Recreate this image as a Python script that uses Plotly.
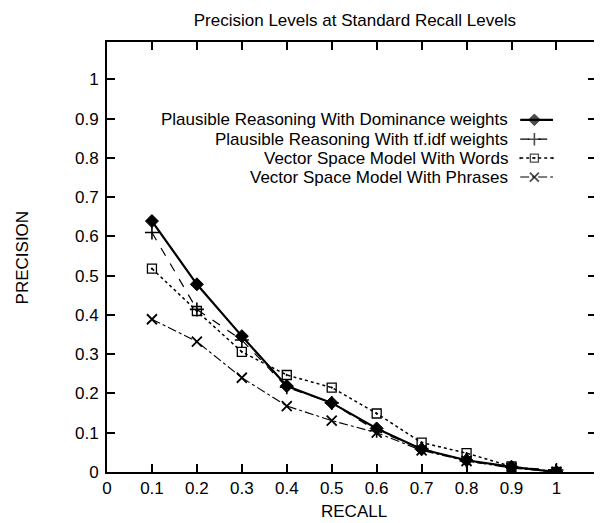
import plotly.graph_objects as go

recall = [0.1, 0.2, 0.3, 0.4, 0.5, 0.6, 0.7, 0.8, 0.9, 1.0]
dominance = [0.639, 0.478, 0.346, 0.219, 0.176, 0.111, 0.058, 0.030, 0.013, 0.0]
tfidf = [0.610, 0.414, 0.336, 0.216, 0.176, 0.105, 0.060, 0.028, 0.012, 0.005]
vsm_words = [0.518, 0.410, 0.306, 0.247, 0.215, 0.149, 0.075, 0.048, 0.014, 0.0]
vsm_phrases = [0.389, 0.332, 0.240, 0.168, 0.131, 0.100, 0.055, 0.028, 0.010, 0.0]

tick_vals = [0, 0.1, 0.2, 0.3, 0.4, 0.5, 0.6, 0.7, 0.8, 0.9, 1]
tick_text = ["0", "0.1", "0.2", "0.3", "0.4", "0.5", "0.6", "0.7", "0.8", "0.9", "1"]

names = [
    "Plausible Reasoning With Dominance weights",
    "Plausible Reasoning With tf.idf weights",
    "Vector Space Model With Words",
    "Vector Space Model With Phrases",
]
series = [dominance, tfidf, vsm_words, vsm_phrases]
styles = [
    dict(dash="solid", width=2.2, symbol="diamond", msize=10, mline=1),
    dict(dash="dash", width=1.2, symbol="cross-thin", msize=10, mline=1.6),
    dict(dash="dot", width=1.5, symbol="square-open-dot", msize=9, mline=1.3),
    dict(dash="dashdot", width=1.1, symbol="x-thin", msize=10, mline=1.8),
]

font = "Liberation Sans, Arial, sans-serif"
fs = 17
fig = go.Figure()
for nm, ys, st in zip(names, series, styles):
    fig.add_trace(go.Scatter(
        x=recall, y=ys, name=nm, mode="lines+markers",
        line=dict(color="black", width=st["width"], dash=st["dash"]),
        marker=dict(symbol=st["symbol"], size=st["msize"], color="black",
                    line=dict(color="black", width=st["mline"])),
        showlegend=False,
    ))

# custom legend (text left of key, like the original)
legend_rows = [0.819, 0.774, 0.730, 0.686]
for nm, st, yy in zip(names, styles, legend_rows):
    fig.add_annotation(x=0.825, y=yy, xref="paper", yref="paper", text=nm,
                       showarrow=False, xanchor="right", yanchor="middle",
                       font=dict(family=font, size=fs, color="black"))
    fig.add_trace(go.Scatter(
        x=[0.845, 0.874, 0.912], y=[yy, yy, yy], xaxis="x2", yaxis="y2",
        mode="lines+markers", showlegend=False, hoverinfo="skip",
        line=dict(color="black", width=st["width"], dash=st["dash"]),
        marker=dict(symbol=st["symbol"], size=[0, st["msize"] - 1, 0], color="black",
                    line=dict(color="black", width=st["mline"])),
    ))

# axis titles
fig.add_annotation(x=-0.173, y=0.5, xref="paper", yref="paper", text="PRECISION",
                   textangle=-90, showarrow=False, xanchor="center", yanchor="middle",
                   font=dict(family=font, size=fs, color="black"))
fig.add_annotation(x=0.505, y=-0.093, xref="paper", yref="paper", text="RECALL",
                   showarrow=False, xanchor="center", yanchor="middle",
                   font=dict(family=font, size=fs, color="black"))

axis_common = dict(
    showline=True, linecolor="black", linewidth=2, mirror="ticks",
    ticks="inside", ticklen=8, tickwidth=1.5, tickcolor="black",
    showgrid=False, zeroline=False,
    tickfont=dict(family=font, size=fs, color="black"),
)
fig.update_layout(
    width=594, height=515,
    margin=dict(l=99, r=4, t=34, b=51),
    paper_bgcolor="white", plot_bgcolor="white",
    title=dict(text="Precision Levels at Standard Recall Levels", x=0.584, xanchor="center",
               y=0.977, yanchor="middle", font=dict(family=font, size=fs, color="black")),
    xaxis=dict(range=[0, 1.088], tickvals=tick_vals, ticktext=tick_text, **axis_common),
    yaxis=dict(range=[0, 1.095], tickvals=tick_vals, ticktext=tick_text,
               ticklabelstandoff=3, **axis_common),
    xaxis2=dict(range=[0, 1], overlaying="x", visible=False, fixedrange=True),
    yaxis2=dict(range=[0, 1], overlaying="y", visible=False, fixedrange=True),
)

fig.write_html("out.html")
